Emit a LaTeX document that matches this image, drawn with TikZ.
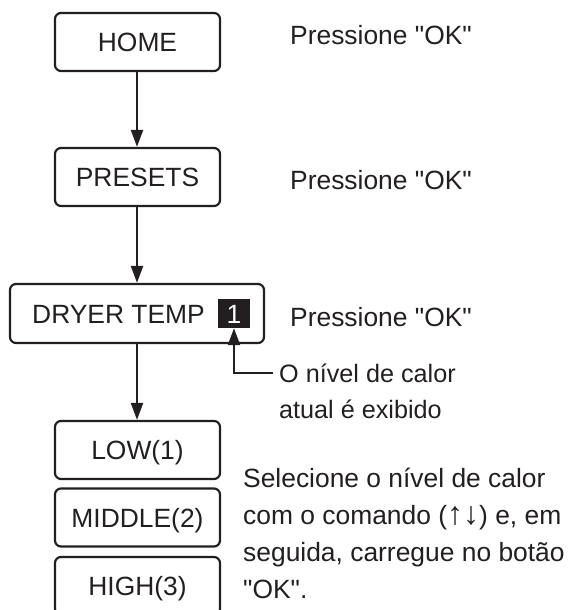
\documentclass[tikz,border=0pt]{standalone}
\usepackage{fontspec}
\setmainfont{Liberation Sans}[Ligatures=TeXOff]
\usetikzlibrary{arrows.meta}
\definecolor{ink}{HTML}{231F20}
\begin{document}
\begin{tikzpicture}[x=1pt,y=-1pt,
  every node/.style={text=ink},
  stepbox/.style={draw=ink, line width=2.2pt, rounded corners=6pt, inner sep=0pt,
    minimum width=165pt, minimum height=58pt, text height=19pt, text depth=0pt,
    font=\fontsize{26.4}{37}\selectfont},
  lbl/.style={anchor=base west, inner sep=0pt, font=\fontsize{26.4}{37}\selectfont},
  arr/.style={draw=ink, line width=2.2pt, -{Triangle[length=17pt,width=12pt]}}]
\useasboundingbox (0,0) rectangle (571,610);
\clip (0,0) rectangle (571,610);
\node[stepbox] (home) at (137.5,42) {HOME};
\node[stepbox] (presets) at (137.5,177) {PRESETS};
\node[stepbox, minimum width=254pt, minimum height=59pt] (dryer) at (137,313.5) {};
\node[lbl] (dryertxt) at (32,323) {DRYER TEMP};
\node[fill=ink, inner sep=0pt, minimum width=32pt, minimum height=29pt, text=white,
  text height=19pt, text depth=0pt, font=\fontsize{26.4}{37}\selectfont] (sq) at (234,313.5) {1};
\node[stepbox] (low) at (137.5,450) {LOW(1)};
\node[stepbox] (mid) at (137.5,517.5) {MIDDLE(2)};
\node[stepbox] (high) at (137.5,586) {HIGH(3)};
\draw[arr] (home.south -| 137,0) -- (presets.north -| 137,0);
\draw[arr] (presets.south -| 137,0) -- (dryer.north -| 137,0);
\draw[arr] (dryer.south -| 137,0) -- (low.north -| 137,0);
\node[lbl] (p1) at (290,45) {Pressione "OK"};
\node[lbl] (p2) at (290,189) {Pressione "OK"};
\node[lbl] (p3) at (290,326) {Pressione "OK"};
\node[lbl, font=\fontsize{25.2}{36}\selectfont] (cur1) at (279,382) {O nível de calor};
\node[lbl, font=\fontsize{25.2}{36}\selectfont] (cur2) at (279,418) {atual é exibido};
\coordinate (callend) at (273,373);
\draw[arr] (callend) -| (sq.south);
\node[lbl] (s1) at (243,487) {Selecione o nível de calor};
\node[lbl] (s2) at (243,524) {com o comando ({\fontsize{32}{37}\selectfont ↑↓}) e, em};
\node[lbl] (s3) at (243,561) {seguida, carregue no botão};
\node[lbl] (s4) at (243,598) {"OK".};
\end{tikzpicture}
\end{document}
